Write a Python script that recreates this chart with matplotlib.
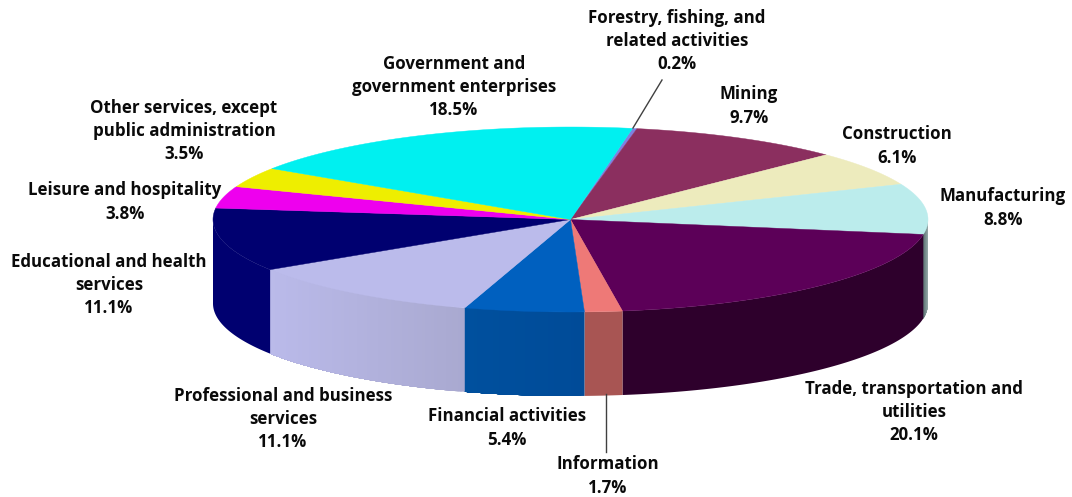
import numpy as np
import matplotlib
matplotlib.use("Agg")
import matplotlib.pyplot as plt
from matplotlib.colors import to_rgb
from matplotlib.patches import Polygon

categories = ["Forestry, fishing, and\nrelated activities", "Mining", "Construction", "Manufacturing",
              "Trade, transportation and\nutilities", "Information", "Financial activities",
              "Professional and business\nservices", "Educational and health\nservices",
              "Leisure and hospitality", "Other services, except\npublic administration",
              "Government and\ngovernment enterprises"]
values = [0.2, 9.7, 6.1, 8.8, 20.1, 1.7, 5.4, 11.1, 11.1, 3.8, 3.5, 18.5]
top_colors = ["#8080E0", "#8B2F5F", "#EDEBBD", "#BBECEC", "#5C0058", "#EE7977",
              "#0060BF", "#BBBBEB", "#000070", "#EE00EE", "#EEEE00", "#00F0F0"]
side_left = ["#8080E0", "#8B2F5F", "#EDEBBD", "#5A7272", "#2E002C", "#A85553",
             "#00509E", "#BABAEA", "#000070", "#EE00EE", "#EEEE00", "#00F0F0"]
side_right = ["#8080E0", "#8B2F5F", "#EDEBBD", "#98AAAA", "#2E002C", "#A85553",
              "#004B98", "#A9A9D0", "#000070", "#EE00EE", "#EEEE00", "#00F0F0"]
label_xy = [(677, 41), (749, 106), (897, 146), (1003, 208), (914, 412), (608, 476),
            (507, 428), (283, 419), (109, 285), (125, 202), (184, 131), (454, 87)]

CX, CY, RX, RY, DEPTH = 570.5, 219.5, 357.5, 92.5, 84
START = 10.0

fig = plt.figure(figsize=(10.72, 4.97), dpi=100)
ax = fig.add_axes([0, 0, 1, 1])
ax.set_xlim(0, 1072)
ax.set_ylim(497, 0)
ax.axis("off")
plt.rcParams["font.family"] = ["Open Sans", "DejaVu Sans"]


def rim(theta):
    t = np.radians(theta)
    return CX + RX * np.sin(t), CY - RY * np.cos(t)


edges = START + 3.6 * np.cumsum([0] + values)

# side wall: only the part of each wedge that faces the viewer (90..270 deg clockwise from top)
for i in range(len(values)):
    a, b = max(edges[i], 90), min(edges[i + 1], 270)
    if b <= a:
        continue
    th = np.linspace(a, b, max(int((b - a) * 2), 2))
    xs, ys = rim(th)
    c_start, c_end = np.array(to_rgb(side_left[i])), np.array(to_rgb(side_right[i]))
    xmin, xmax = xs.min(), xs.max()
    same = side_left[i] == side_right[i]
    steps = [0] if same else range(len(th) - 1)
    for k in steps:
        # every strip reaches to the wedge's far end, the next one paints over it: no seams
        pts = list(zip(xs[k:], ys[k:])) + list(zip(xs[k:][::-1], ys[k:][::-1] + DEPTH))
        f = ((xs[k] + xs[k + 1]) / 2 - xmin) / max(xmax - xmin, 1)
        col = c_start + (c_end - c_start) * f
        ax.add_patch(Polygon(pts, closed=True, facecolor=col, edgecolor="none", zorder=2))

# top face
for i in range(len(values)):
    th = np.linspace(edges[i], edges[i + 1], max(int(values[i] * 8), 3))
    xs, ys = rim(th)
    pts = [(CX, CY)] + list(zip(xs, ys))
    ax.add_patch(Polygon(pts, closed=True, facecolor=top_colors[i], edgecolor=top_colors[i], linewidth=0.3, zorder=3))

# leader lines
ax.plot([662, 633], [80, 128], color="#404040", lw=1, zorder=4)
ax.plot([605.5, 605.5], [394, 452], color="#404040", lw=1, zorder=4)

for name, v, (x, y) in zip(categories, values, label_xy):
    ax.text(x, y, f"{name}\n{v:.1f}%", ha="center", va="center", fontsize=12.2,
            fontweight="bold", color="#0a0a0a", linespacing=1.38, zorder=5)

fig.savefig("out.png", dpi=100)
